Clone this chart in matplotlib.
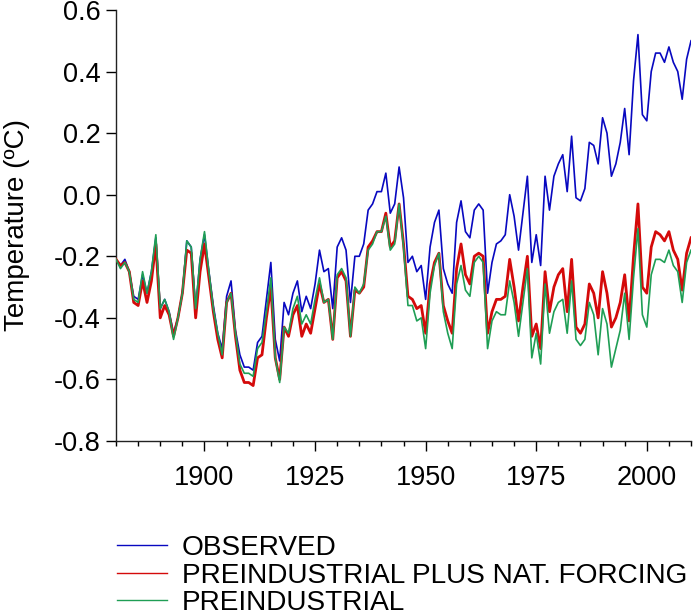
import numpy as np
import matplotlib
matplotlib.use("Agg")
import matplotlib.pyplot as plt
from matplotlib.lines import Line2D
from matplotlib.ticker import MultipleLocator, FormatStrFormatter
from matplotlib import font_manager

plt.rcParams['font.family'] = ['Liberation Sans', 'DejaVu Sans']
plt.rcParams['axes.unicode_minus'] = False

years = list(range(1880, 2011))

observed = [
    -0.21, -0.23, -0.21, -0.25, -0.33, -0.34, -0.26, -0.32, -0.25, -0.14,
    -0.37, -0.34, -0.38, -0.45, -0.40, -0.32, -0.15, -0.17, -0.37, -0.21,
    -0.13, -0.25, -0.36, -0.45, -0.50, -0.33, -0.28, -0.44, -0.52, -0.56,
    -0.56, -0.57, -0.48, -0.46, -0.34, -0.22, -0.47, -0.54, -0.35, -0.39,
    -0.32, -0.28, -0.38, -0.33, -0.37, -0.29, -0.18, -0.25, -0.24, -0.37,
    -0.17, -0.14, -0.18, -0.35, -0.20, -0.20, -0.16, -0.05, -0.03, 0.01,
    0.01, 0.07, -0.06, -0.03, 0.09, -0.01, -0.22, -0.20, -0.25, -0.23,
    -0.34, -0.17, -0.09, -0.05, -0.24, -0.29, -0.32, -0.09, -0.02, -0.12,
    -0.14, -0.05, -0.03, -0.05, -0.32, -0.22, -0.16, -0.15, -0.13, 0.00,
    -0.07, -0.18, -0.06, 0.06, -0.22, -0.13, -0.23, 0.06, -0.05, 0.06,
    0.10, 0.13, 0.01, 0.19, -0.01, -0.02, 0.02, 0.17, 0.16, 0.10,
    0.25, 0.20, 0.06, 0.10, 0.17, 0.28, 0.13, 0.37, 0.52, 0.26,
    0.24, 0.40, 0.46, 0.46, 0.43, 0.48, 0.43, 0.40, 0.31, 0.44,
    0.50,
]

preindustrial_nat = [
    -0.21, -0.23, -0.22, -0.25, -0.35, -0.36, -0.28, -0.35, -0.28, -0.16,
    -0.40, -0.36, -0.39, -0.46, -0.40, -0.32, -0.18, -0.19, -0.40, -0.25,
    -0.16, -0.27, -0.38, -0.47, -0.53, -0.35, -0.32, -0.46, -0.57, -0.61,
    -0.61, -0.62, -0.53, -0.52, -0.40, -0.30, -0.53, -0.60, -0.43, -0.46,
    -0.39, -0.36, -0.46, -0.42, -0.45, -0.37, -0.29, -0.35, -0.34, -0.47,
    -0.27, -0.25, -0.28, -0.46, -0.31, -0.32, -0.30, -0.17, -0.15, -0.12,
    -0.12, -0.06, -0.17, -0.15, -0.03, -0.16, -0.33, -0.34, -0.37, -0.36,
    -0.45, -0.29, -0.22, -0.19, -0.36, -0.41, -0.45, -0.24, -0.16, -0.26,
    -0.29, -0.20, -0.19, -0.20, -0.45, -0.38, -0.34, -0.34, -0.33, -0.21,
    -0.30, -0.41, -0.30, -0.20, -0.46, -0.42, -0.50, -0.25, -0.38, -0.30,
    -0.26, -0.24, -0.38, -0.21, -0.43, -0.45, -0.42, -0.29, -0.32, -0.40,
    -0.25, -0.32, -0.43, -0.40, -0.35, -0.26, -0.41, -0.20, -0.03, -0.30,
    -0.32, -0.17, -0.12, -0.13, -0.15, -0.12, -0.18, -0.21, -0.31, -0.19,
    -0.14,
]

preindustrial = [
    -0.21, -0.24, -0.22, -0.25, -0.34, -0.35, -0.25, -0.32, -0.25, -0.13,
    -0.37, -0.34, -0.38, -0.47, -0.40, -0.32, -0.15, -0.17, -0.37, -0.21,
    -0.12, -0.25, -0.37, -0.45, -0.52, -0.35, -0.32, -0.45, -0.55, -0.58,
    -0.58, -0.59, -0.50, -0.48, -0.38, -0.27, -0.53, -0.61, -0.43, -0.45,
    -0.37, -0.33, -0.42, -0.39, -0.42, -0.34, -0.27, -0.35, -0.34, -0.47,
    -0.26, -0.24, -0.27, -0.46, -0.30, -0.32, -0.29, -0.18, -0.16, -0.12,
    -0.12, -0.07, -0.18, -0.16, -0.03, -0.17, -0.36, -0.36, -0.41, -0.40,
    -0.50, -0.32, -0.23, -0.19, -0.38, -0.45, -0.50, -0.29, -0.23, -0.31,
    -0.33, -0.22, -0.20, -0.22, -0.50, -0.41, -0.38, -0.39, -0.39, -0.28,
    -0.35, -0.46, -0.35, -0.24, -0.53, -0.45, -0.55, -0.29, -0.45, -0.38,
    -0.35, -0.34, -0.45, -0.28, -0.47, -0.49, -0.47, -0.35, -0.39, -0.52,
    -0.37, -0.42, -0.56, -0.50, -0.44, -0.32, -0.47, -0.27, -0.11, -0.39,
    -0.43, -0.26, -0.21, -0.21, -0.22, -0.18, -0.23, -0.25, -0.35, -0.22,
    -0.18,
]

labels = ["OBSERVED", "PREINDUSTRIAL PLUS NAT. FORCING", "PREINDUSTRIAL"]
colors = ["#0808c0", "#d40a0a", "#1f9e55"]
x_major = [1900, 1925, 1950, 1975, 2000]

available = {f.name for f in font_manager.fontManager.ttflist}
if 'Liberation Sans Narrow' in available:
    leg_family = ['Liberation Sans Narrow', 'Liberation Sans', 'DejaVu Sans']
    leg_size = 23.5
else:
    leg_family = ['Liberation Sans', 'DejaVu Sans']
    leg_size = 20.2

fig = plt.figure(figsize=(6.99, 6.16), dpi=100)
ax = fig.add_axes([0.1660, 0.2841, 0.8226, 0.6997])

ax.plot(years, observed, color=colors[0], lw=1.2, zorder=3)
ax.plot(years, preindustrial_nat, color=colors[1], lw=2.0, zorder=4)
ax.plot(years, preindustrial, color=colors[2], lw=1.2, zorder=5)

ax.set_xlim(1880, 2010)
ax.set_ylim(-0.8, 0.6)
ax.set_xticks(x_major)
ax.xaxis.set_minor_locator(MultipleLocator(5))
ax.yaxis.set_major_locator(MultipleLocator(0.2))
ax.yaxis.set_major_formatter(FormatStrFormatter('%.1f'))

for s in ['top', 'right']:
    ax.spines[s].set_visible(False)
for s in ['left', 'bottom']:
    ax.spines[s].set_linewidth(1.0)
    ax.spines[s].set_color('#222222')

ax.tick_params(axis='x', which='major', direction='out', length=7.2, width=1.0, pad=10, labelsize=19.5)
ax.tick_params(axis='x', which='minor', direction='out', length=3.6, width=1.0)
ax.tick_params(axis='y', which='major', direction='out', length=7.2, width=1.0, pad=4, labelsize=19.5)

yl = ax.set_ylabel("Temperature (ºC)", fontsize=20)
yl.set_verticalalignment('center')
ax.yaxis.set_label_coords(-0.172, 0.5)

handles = [Line2D([0], [0], color=c, lw=1.0) for c in colors]
fig.legend(handles, labels, loc='upper left', bbox_to_anchor=(0.167, 0.131),
           frameon=False, prop={'family': leg_family, 'size': leg_size},
           handlelength=50 / (leg_size * 100 / 72), handletextpad=15 / (leg_size * 100 / 72),
           labelspacing=0.05, borderpad=0, borderaxespad=0)

fig.savefig("out.png", dpi=100)
